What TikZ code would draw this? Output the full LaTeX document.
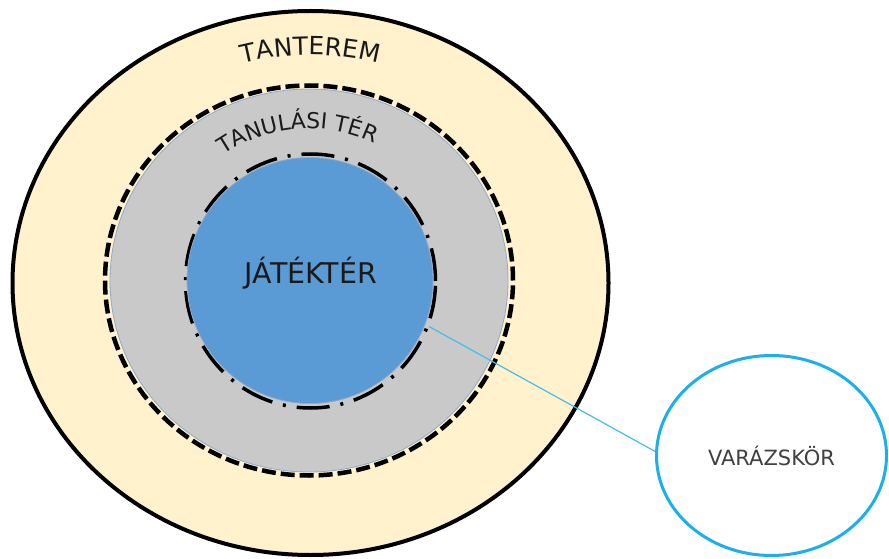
\documentclass[tikz,border=0pt]{standalone}
\usepackage{fontspec}
\setmainfont{DejaVu Sans}
\usetikzlibrary{shapes.geometric, decorations.text}
\definecolor{cream}{HTML}{FFF2CC}
\definecolor{ringgray}{HTML}{C9C9C9}
\definecolor{playblue}{HTML}{5B9BD5}
\definecolor{edgeblue}{HTML}{8FAACC}
\definecolor{magic}{HTML}{1DAFEA}
\definecolor{magicline}{HTML}{45BDEB}
\definecolor{ink}{HTML}{1A1A1A}
\tikzstyle{ring} = [ellipse, inner sep = 0pt, draw]
\tikzstyle{arctext} = [
  decorate,
  decoration = {text along path, text align = center, text color = ink}
]

\begin{document}
\begin{tikzpicture}[x = 1pt, y = 1pt]
      \useasboundingbox (0, 0) rectangle (889, 558);
      % tanterem
      \node [ring, fill = cream, line width = 4pt, minimum width = 596pt,
        minimum height = 544pt] (tanterem) at (310.5, 275) {};
      % tanulasi ter
      \node [ring, fill = ringgray, draw = edgeblue, line width = 0.8pt,
        minimum width = 398pt, minimum height = 383pt] (tanulas) at (309, 277.5) {};
      \node [ring, line width = 4.5pt, dash pattern = on 14pt off 5pt,
        minimum width = 408pt, minimum height = 390pt] (tanulas-keret) at (309, 277.5) {};
      % jatekter
      \node [ring, line width = 3.5pt, dash pattern = on 33pt off 11pt on 3pt off 11pt,
        minimum width = 250pt, minimum height = 254pt] (jatek-kor) at (310.5, 277) {};
      \node [ring, fill = playblue, draw = edgeblue, line width = 0.8pt,
        minimum width = 246pt, minimum height = 246pt] (jatekter) at (310, 277.5) {};
      \node [text = ink, font = \fontsize{28.5}{28.5}\selectfont] (jatekter-cim)
        at (311, 285) {JÁTÉKTÉR};

      % feliratok a gyuruk menten
      \path [arctext, decoration = {text = {|\fontsize{25}{25}\selectfont|TANTEREM}}]
        ([shift = {(115:252 and 228)}]tanterem.center)
        arc [start angle = 115, end angle = 65, x radius = 252, y radius = 228];
      \path [arctext, decoration = {text = {|\fontsize{22}{22}\selectfont|TANULÁSI TÉR}}]
        ([shift = {(150:152)}]tanulas.center)
        arc [start angle = 150, end angle = 39, radius = 152];

      % varazskor
      \node [ring, draw = magic, fill = white, line width = 3pt,
        minimum width = 230pt, minimum height = 200pt, text = black!75,
        font = \fontsize{21}{21}\selectfont] (varazskor) at (771.5, 102.5) {VARÁZSKÖR};
      \draw [magicline, line width = 1.2pt] (jatek-kor.-21) -- (varazskor.178);
\end{tikzpicture}
\end{document}
